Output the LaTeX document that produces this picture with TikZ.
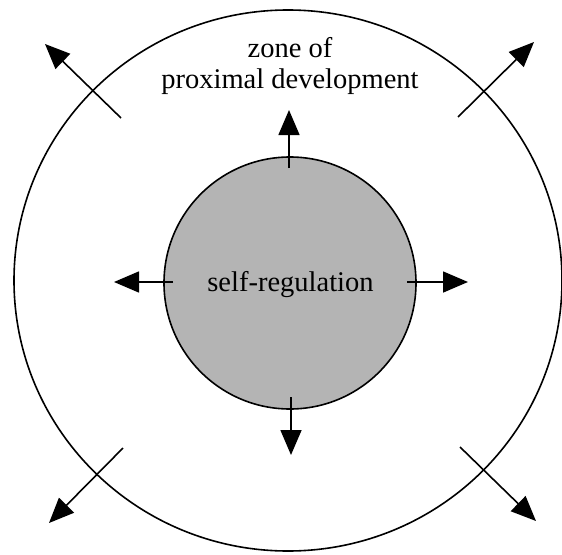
\documentclass[tikz,border=0pt]{standalone}
\usepackage{fontspec}
\setmainfont{Liberation Serif}
\usetikzlibrary{arrows.meta,shapes.geometric}
\definecolor{selfgray}{RGB}{180,180,180}
\begin{document}
\begin{tikzpicture}[x=1pt,y=-1pt,
  ring/.style={draw, line width=1.6pt, inner sep=0pt},
  growth/.style={line width=1.6pt, -{Triangle[length=25pt,width=21pt]}},
  label/.style={font=\fontsize{28.5}{31}\selectfont, align=center}]
\useasboundingbox (0,0) rectangle (562,554);

% outer zone and inner core
\node[ring, ellipse, minimum width=548pt, minimum height=541pt] (zpd) at (288,280.5) {};
\node[ring, circle, fill=selfgray, minimum size=252pt] (core) at (290,283) {};
\node[label] (corelabel) at (290.5,285) {self-regulation};
\node[label] (zpdlabel) at (290,66) {zone of\\proximal development};

% arrows leaving the core
\coordinate (nS) at (289,168); \coordinate (nT) at (289,110);
\coordinate (sS) at (291,397); \coordinate (sT) at (291,455);
\coordinate (wS) at (173,282); \coordinate (wT) at (114,282);
\coordinate (eS) at (407,282); \coordinate (eT) at (468,282);
\draw[growth] (nS) -- (nT);
\draw[growth] (sS) -- (sT);
\draw[growth] (wS) -- (wT);
\draw[growth] (eS) -- (eT);

% arrows leaving the outer zone
\coordinate (nwS) at (121,118); \coordinate (nwT) at (45,44);
\coordinate (neS) at (458,117); \coordinate (neT) at (534,42);
\coordinate (swS) at (123,448); \coordinate (swT) at (49,523);
\coordinate (seS) at (460,447); \coordinate (seT) at (536,521);
\draw[growth] (nwS) -- (nwT);
\draw[growth] (neS) -- (neT);
\draw[growth] (swS) -- (swT);
\draw[growth] (seS) -- (seT);
\end{tikzpicture}
\end{document}
